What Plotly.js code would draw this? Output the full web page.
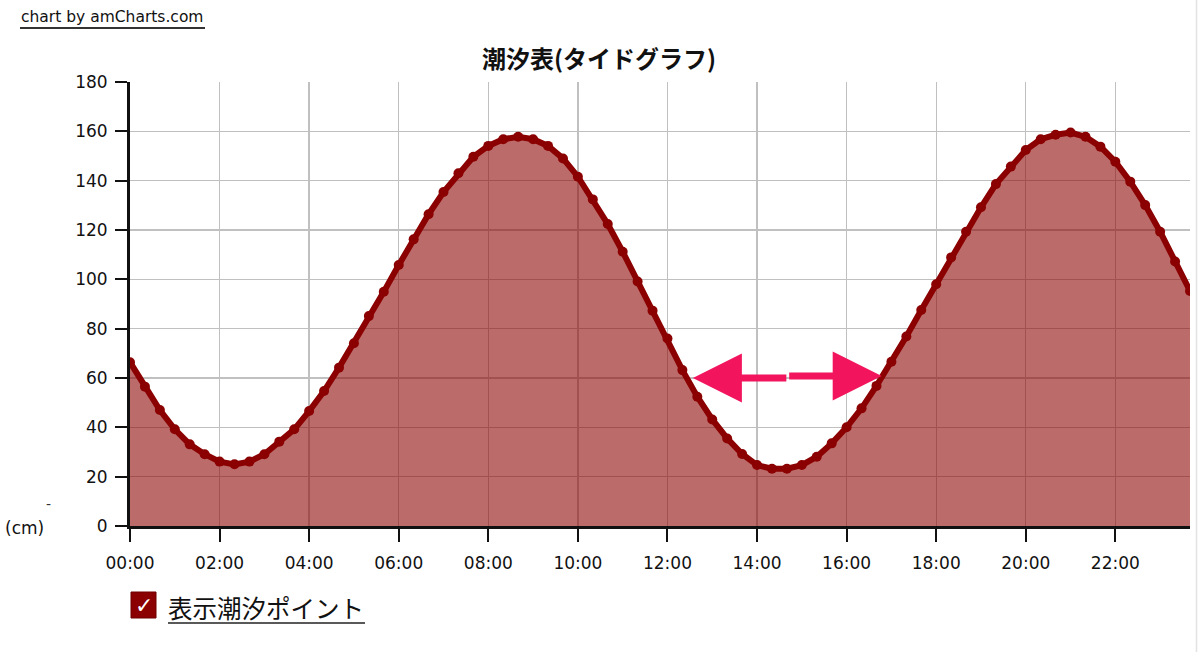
<!DOCTYPE html>
<html>
<head>
<meta charset="utf-8">
<script src="https://cdn.plot.ly/plotly-3.0.1.min.js"></script>
<style>
  html, body { margin: 0; padding: 0; background: #fff; }
  #myChart { width: 1198px; height: 652px; }
</style>
</head>
<body>
<div id="myChart"></div>
<script>
// tide readings every 20 minutes (cm)
var times = [
  "00:00", "00:20", "00:40", "01:00", "01:20", "01:40", "02:00", "02:20", "02:40",
  "03:00", "03:20", "03:40", "04:00", "04:20", "04:40", "05:00", "05:20", "05:40",
  "06:00", "06:20", "06:40", "07:00", "07:20", "07:40", "08:00", "08:20", "08:40",
  "09:00", "09:20", "09:40", "10:00", "10:20", "10:40", "11:00", "11:20", "11:40",
  "12:00", "12:20", "12:40", "13:00", "13:20", "13:40", "14:00", "14:20", "14:40",
  "15:00", "15:20", "15:40", "16:00", "16:20", "16:40", "17:00", "17:20", "17:40",
  "18:00", "18:20", "18:40", "19:00", "19:20", "19:40", "20:00", "20:20", "20:40",
  "21:00", "21:20", "21:40", "22:00", "22:20", "22:40", "23:00", "23:20", "23:40"
];

var tideCm = [
  66.4, 56.5, 47.0, 39.2, 33.1, 29.1, 26.1, 25.0, 26.1,
  29.1, 34.2, 39.2, 46.6, 54.7, 64.2, 74.1, 85.1, 95.0,
  105.8, 116.2, 126.4, 135.4, 143.0, 149.7, 154.1, 156.8, 157.8,
  156.8, 154.1, 149.0, 141.6, 132.4, 122.4, 111.2, 99.1, 87.3,
  76.0, 63.2, 52.4, 43.2, 35.5, 29.2, 24.7, 23.2, 23.2,
  24.7, 28.1, 33.5, 40.0, 47.7, 56.8, 66.6, 76.8, 87.6,
  98.0, 108.9, 119.3, 129.2, 138.6, 145.7, 152.4, 156.8, 158.6,
  159.5, 157.8, 153.8, 147.7, 139.6, 130.1, 119.3, 107.2, 95.3
];

var yTicks = [0, 20, 40, 60, 80, 100, 120, 140, 160, 180];

var day = "2000-01-01 ";
var xDates = times.map(function (t) { return day + t; });

// pixel -> paper helpers for the decorations outside the plot
var PL = 130, PR = 1190, PT = 82, PB = 526;
function px(x) { return (x - PL) / (PR - PL); }
function py(y) { return (PB - y) / (PB - PT); }

var tickFont = { family: 'DejaVu Sans', size: 17, color: '#111' };
var jpFont = 'Noto Sans CJK JP';
var darkRed = '#8B0000';
var pink = '#F2155E';

var data = [{
  x: xDates,
  y: tideCm,
  type: 'scatter',
  mode: 'lines+markers',
  fill: 'tozeroy',
  fillcolor: 'rgba(139,0,0,0.58)',
  line: { color: darkRed, width: 6 },
  marker: { color: darkRed, size: 10 },
  hoverinfo: 'skip'
}];

var layout = {
  width: 1198,
  height: 652,
  paper_bgcolor: '#fff',
  plot_bgcolor: '#fff',
  font: { family: 'DejaVu Sans', size: 16, color: '#111' },
  margin: { l: PL, r: 1198 - PR, t: PT, b: 652 - PB, pad: 0 },
  showlegend: false,
  title: {
    text: '<b>潮汐表(タイドグラフ)</b>',
    font: { family: jpFont, size: 24, color: '#111' },
    x: 0.5, xref: 'container', xanchor: 'center',
    y: 1 - 60 / 652, yref: 'container', yanchor: 'middle'
  },
  xaxis: {
    type: 'date',
    range: [day + '00:00', day + '23:40'],
    tick0: day + '00:00',
    dtick: 7200000,
    tickformat: '%H:%M',
    ticks: 'outside',
    ticklen: 13,
    tickwidth: 2,
    tickcolor: '#111',
    tickfont: tickFont,
    ticklabelstandoff: 7,
    showline: true,
    linecolor: '#111',
    linewidth: 3,
    showgrid: true,
    gridcolor: '#c0c0c0',
    gridwidth: 1.3,
    zeroline: false,
    fixedrange: true
  },
  yaxis: {
    range: [0, 180],
    tickvals: yTicks,
    ticks: 'outside',
    ticklen: 12,
    tickwidth: 2,
    tickcolor: '#111',
    tickfont: tickFont,
    ticklabelstandoff: 4,
    showline: true,
    linecolor: '#111',
    linewidth: 3,
    showgrid: true,
    gridcolor: '#c0c0c0',
    gridwidth: 1.3,
    zeroline: false,
    fixedrange: true
  },
  shapes: [
    // underline of the credit link
    { type: 'line', xref: 'paper', yref: 'paper',
      x0: px(20), x1: px(205), y0: py(28), y1: py(28),
      line: { color: '#333', width: 2 } },
    // checkbox
    { type: 'rect', xref: 'paper', yref: 'paper',
      x0: px(131), x1: px(156), y0: py(618), y1: py(592),
      fillcolor: darkRed, line: { color: '#6e0000', width: 1 } },
    // underline of the checkbox label
    { type: 'line', xref: 'paper', yref: 'paper',
      x0: px(168), x1: px(365), y0: py(623), y1: py(623),
      line: { color: '#222', width: 1.5 } },
    // faint page border on the right
    { type: 'line', xref: 'paper', yref: 'paper',
      x0: px(1196.5), x1: px(1196.5), y0: py(652), y1: py(0),
      line: { color: '#e2e2e2', width: 1.5 } }
  ],
  annotations: [
    { text: 'chart by amCharts.com', xref: 'paper', yref: 'paper',
      x: px(19), y: py(17), xanchor: 'left', yanchor: 'middle',
      showarrow: false, font: { family: 'DejaVu Sans', size: 15.5, color: '#111' } },
    { text: '(cm)', xref: 'paper', yref: 'paper',
      x: px(24), y: py(528), xanchor: 'center', yanchor: 'middle',
      showarrow: false, font: { family: 'DejaVu Sans', size: 17, color: '#111' } },
    { text: '-', xref: 'paper', yref: 'paper',
      x: px(48), y: py(504), xanchor: 'center', yanchor: 'middle',
      showarrow: false, font: { family: 'DejaVu Sans', size: 14, color: '#333' } },
    { text: '✓', xref: 'paper', yref: 'paper',
      x: px(143.5), y: py(605), xanchor: 'center', yanchor: 'middle',
      showarrow: false, font: { family: 'DejaVu Sans', size: 22, color: '#fff' } },
    { text: '表示潮汐ポイント', xref: 'paper', yref: 'paper',
      x: px(166), y: py(607), xanchor: 'left', yanchor: 'middle',
      showarrow: false, font: { family: jpFont, size: 24.5, color: '#111' } },
    // double arrow between the two 60cm crossings
    { x: day + '12:34', y: 60, xref: 'x', yref: 'y', text: '',
      showarrow: true, ax: 95, ay: 0, arrowhead: 2, arrowsize: 1.4,
      arrowwidth: 7, arrowcolor: pink, standoff: 0 },
    { x: day + '16:47', y: 60.8, xref: 'x', yref: 'y', text: '',
      showarrow: true, ax: -94, ay: 0, arrowhead: 2, arrowsize: 1.4,
      arrowwidth: 7, arrowcolor: pink, standoff: 0 }
  ]
};

Plotly.newPlot('myChart', data, layout, { displayModeBar: false, staticPlot: true });
</script>
</body>
</html>
